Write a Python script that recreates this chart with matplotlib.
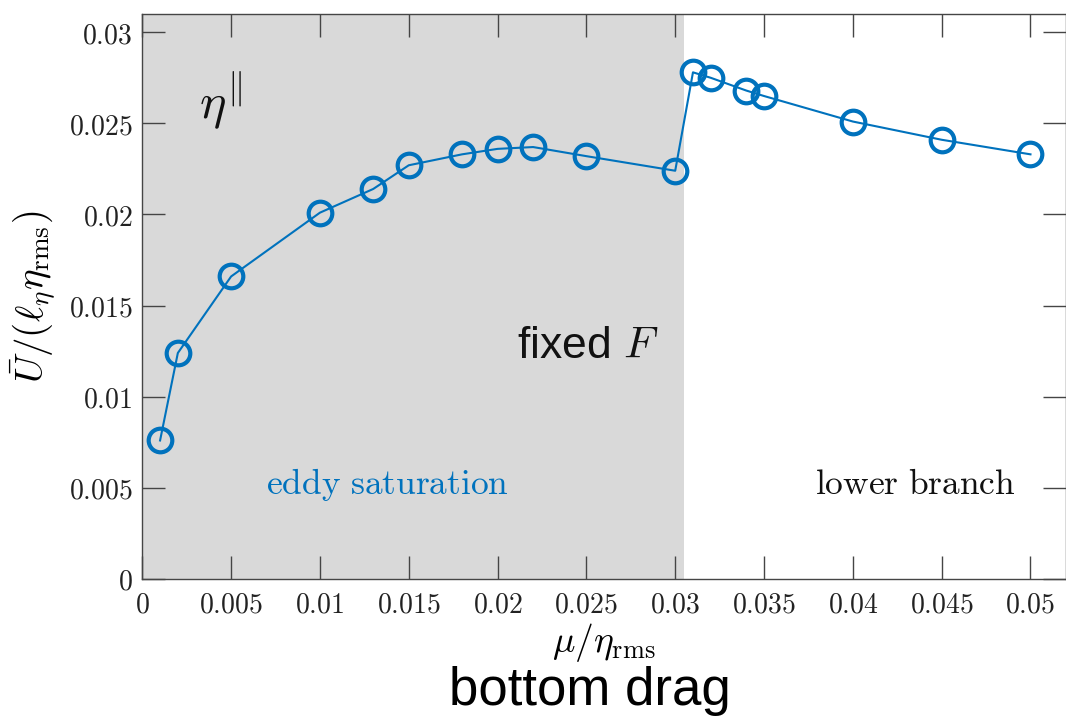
import numpy as np
import matplotlib
matplotlib.use('Agg')
import matplotlib.pyplot as plt
from matplotlib.ticker import FuncFormatter

plt.rcParams['mathtext.fontset'] = 'cm'

# bottom drag mu/eta_rms and the mean flow U/(l_eta eta_rms)
mu = [0.001, 0.002, 0.005, 0.010, 0.013, 0.015, 0.018, 0.020, 0.022, 0.025,
      0.030, 0.031, 0.032, 0.034, 0.035, 0.040, 0.045, 0.050]
U = [0.0076, 0.0124, 0.0166, 0.0201, 0.0214, 0.0227, 0.0233, 0.0236, 0.0237,
     0.0232, 0.0224, 0.0278, 0.0275, 0.0268, 0.0265, 0.0251, 0.0241, 0.0233]
# edge of the eddy saturated regime
mu_sat = 0.0305
xticks = [0, 0.005, 0.01, 0.015, 0.02, 0.025, 0.03, 0.035, 0.04, 0.045, 0.05]
yticks = [0, 0.005, 0.01, 0.015, 0.02, 0.025, 0.03]

azul = '#0072BD'
gris = '#454545'

fig = plt.figure(figsize=(10.66, 7.18), dpi=100)
ax = fig.add_axes([0.1335, 0.1936, 0.8665, 0.7869])

ax.axvspan(0, mu_sat, color='#d9d9d9', lw=0, zorder=0)
ax.plot(mu, U, '-', color=azul, lw=1.5, zorder=2)
ax.plot(mu, U, 'o', ms=17, mfc='none', mec=azul, mew=3.0, zorder=3)

ax.set_xlim(0, 0.052)
ax.set_ylim(0, 0.031)
ax.set_xticks(xticks)
ax.set_yticks(yticks)
fmt = FuncFormatter(lambda v, p: '$%g$' % round(v, 4))
ax.xaxis.set_major_formatter(fmt)
ax.yaxis.set_major_formatter(fmt)
ax.tick_params(direction='in', length=16.5, width=1, color=gris,
               top=True, right=True, labelsize=20, labelcolor='#222222')
ax.tick_params(axis='x', pad=8)
ax.tick_params(axis='y', pad=7)
for s in ax.spines.values():
    s.set_color(gris)
    s.set_linewidth(1)

ax.set_xlabel(r'$\mu/\eta_{\rm rms}$', fontsize=27, labelpad=2)
ax.set_ylabel(r'$\bar{U}/(\ell_\eta\eta_{\rm rms})$', fontsize=28, labelpad=8)

ax.text(0.0044, 0.0262, r'$\eta^{\Vert}$', fontsize=36, color='#111111',
        ha='center', va='center')
ax.text(0.0211, 0.01214, r'fixed $F$', fontsize=32, family='Liberation Sans',
        color='#111111', ha='left', va='baseline')
ax.text(0.0138, 0.0052, r'$\mathrm{eddy\ saturation}$', fontsize=25.5,
        color=azul, ha='center', va='center')
ax.text(0.0435, 0.0052, r'$\mathrm{lower\ branch}$', fontsize=25.5,
        color='#111111', ha='center', va='center')
fig.text(0.553, 0.018, 'bottom drag', fontsize=38, family='Liberation Sans',
         color='black', ha='center', va='baseline')

fig.savefig('out.png', dpi=100)
